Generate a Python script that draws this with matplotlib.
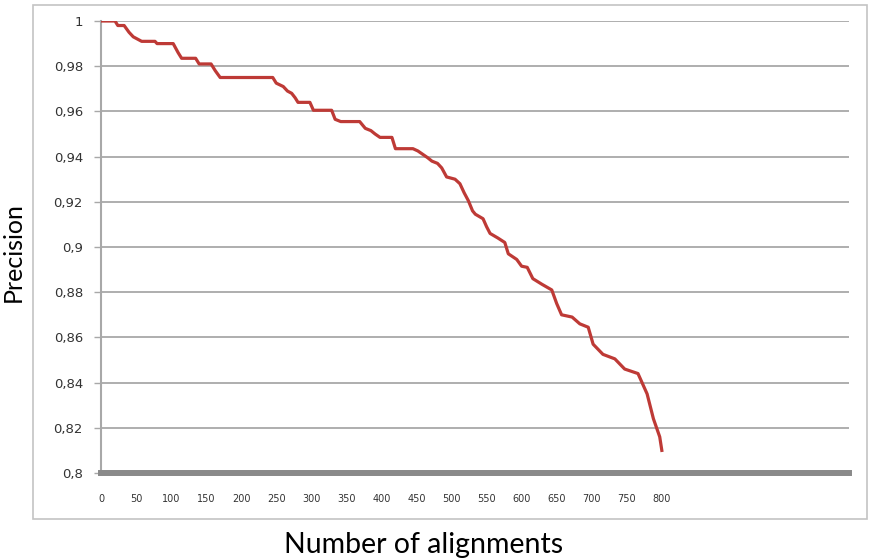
import matplotlib
matplotlib.use('Agg')
import matplotlib.pyplot as plt
from matplotlib.patches import Rectangle

# precision curve (step-like, one point per break)
alignments = [0, 20, 24, 33, 40, 46, 58, 77, 80, 103, 110, 115, 135, 140, 157,
              163, 170, 245, 250, 260, 266, 272, 277, 281, 298, 303, 329, 334,
              342, 369, 377, 385, 391, 398, 415, 420, 445, 452, 459, 466, 472,
              480, 486, 493, 505, 512, 518, 524, 530, 534, 545, 550, 555, 566,
              576, 581, 593, 600, 608, 616, 629, 643, 650, 657, 672, 683, 695,
              702, 716, 733, 747, 766, 779, 788, 797, 800]
precision = [1.0, 1.0, 0.998, 0.998, 0.995, 0.993, 0.991, 0.991, 0.990, 0.990,
             0.986, 0.9835, 0.9835, 0.981, 0.981, 0.978, 0.975, 0.975, 0.9725,
             0.971, 0.969, 0.968, 0.966, 0.964, 0.964, 0.9605, 0.9605, 0.9565,
             0.9555, 0.9555, 0.9525, 0.9515, 0.950, 0.9485, 0.9485, 0.9435,
             0.9435, 0.9425, 0.941, 0.9395, 0.938, 0.937, 0.935, 0.931, 0.930,
             0.928, 0.924, 0.9205, 0.916, 0.9145, 0.9125, 0.909, 0.906, 0.904,
             0.902, 0.897, 0.8945, 0.8915, 0.891, 0.886, 0.8835, 0.881, 0.875,
             0.870, 0.869, 0.866, 0.8645, 0.857, 0.8525, 0.8505, 0.846, 0.844,
             0.835, 0.824, 0.816, 0.810]

x_ticks = list(range(0, 801, 50))
y_ticks = [0.8, 0.82, 0.84, 0.86, 0.88, 0.9, 0.92, 0.94, 0.96, 0.98, 1.0]
y_ticklabels = ['0,8', '0,82', '0,84', '0,86', '0,88', '0,9', '0,92', '0,94',
                '0,96', '0,98', '1']

W, H = 869, 559
fig = plt.figure(figsize=(W / 100, H / 100), dpi=100)

# outer chart frame
fig.patches.append(Rectangle((33 / W, 1 - 519 / H), (867 - 33) / W, (519 - 5) / H,
                             transform=fig.transFigure, fill=False,
                             edgecolor='#c4c4c4', linewidth=1.2))

ax = fig.add_axes([101 / W, 1 - 473 / H, (849 - 101) / W, (473 - 21) / H])
ax.plot(alignments, precision, color='#be3a36', linewidth=2.3, zorder=3)

ax.set_xlim(0, 1067)
ax.set_ylim(0.8, 1.0)
ax.set_yticks(y_ticks)
ax.set_yticklabels(y_ticklabels)
ax.set_xticks(x_ticks)
ax.set_xticklabels([str(t) for t in x_ticks])

ax.grid(axis='y', color='#a8a8a8', linewidth=1.3)
ax.set_axisbelow(True)
for s in ['top', 'right']:
    ax.spines[s].set_visible(False)
ax.spines['left'].set_color('#a8a8a8')
ax.spines['left'].set_linewidth(1.5)
ax.spines['bottom'].set_color('#8a8a8a')
ax.spines['bottom'].set_linewidth(4.3)

ax.tick_params(axis='y', length=5, width=1, color='#a8a8a8', labelsize=9.5,
               labelcolor='#333333', pad=8)
ax.tick_params(axis='x', length=0, labelsize=7, labelcolor='#333333', pad=15)

fig.text(424 / W, 1 - 545 / H, 'Number of alignments', ha='center', va='center',
         fontsize=20.5, family='Lato')
fig.text(13 / W, 1 - 252 / H, 'Precision', ha='center', va='center',
         rotation=90, fontsize=18, family='Lato')

fig.savefig('out.png', dpi=100)
